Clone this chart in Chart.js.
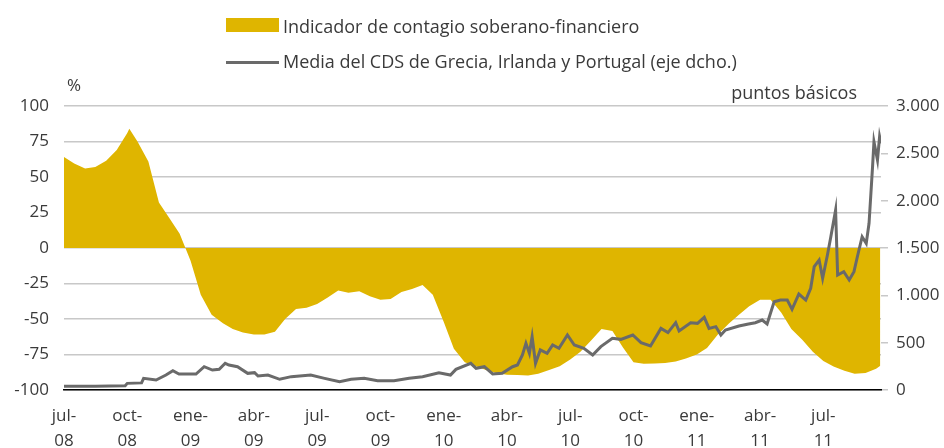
<!DOCTYPE html>
<html lang="es">
<head>
<meta charset="UTF-8">
<title>Indicador de contagio soberano-financiero</title>
<script src="https://cdn.jsdelivr.net/npm/chart.js@4"></script>
<style>
  html, body { margin: 0; padding: 0; background: #fff; }
  #grafico { display: block; }
</style>
</head>
<body>
<canvas id="grafico" width="944" height="448"></canvas>
<script>
// Indicador de contagio soberano-financiero (%, eje izquierdo)
const fechasIndicador = [
  '2008-07-01','2008-07-16','2008-08-01','2008-08-16','2008-09-01','2008-09-16','2008-10-01','2008-10-04','2008-10-16',
  '2008-11-01','2008-11-16','2008-12-01','2008-12-16',
  '2009-01-01','2009-01-16','2009-02-01','2009-02-16','2009-03-01','2009-03-16','2009-04-01','2009-04-16',
  '2009-05-01','2009-05-16','2009-06-01','2009-06-16','2009-07-01','2009-07-16','2009-08-01','2009-08-16',
  '2009-09-01','2009-09-16','2009-10-01','2009-10-16','2009-11-01','2009-11-16','2009-12-01','2009-12-16',
  '2010-01-01','2010-01-16','2010-02-01','2010-02-16','2010-03-01','2010-03-16','2010-04-01','2010-04-16',
  '2010-05-01','2010-05-16','2010-06-01','2010-06-16','2010-07-01','2010-07-16','2010-08-01','2010-08-16',
  '2010-09-01','2010-09-16','2010-10-01','2010-10-16','2010-11-01','2010-11-16','2010-12-01','2010-12-16',
  '2011-01-01','2011-01-16','2011-02-01','2011-02-16','2011-03-01','2011-03-16','2011-04-01','2011-04-16',
  '2011-05-01','2011-05-16','2011-06-01','2011-06-16','2011-07-01','2011-07-16','2011-08-01','2011-08-16',
  '2011-09-01','2011-09-16','2011-09-22'
];
const indicador = [
  64, 59.5, 56, 57, 61.5, 69, 81, 84, 75,
  61, 32, 21, 10,
  -9, -33, -47, -53, -57, -59.5, -61, -61,
  -59, -50, -43, -42, -39.5, -35, -30, -31.5,
  -30.5, -34, -36.5, -36, -31, -28.8, -26, -33,
  -52, -71, -80.5, -83.2, -86, -88, -89.2, -89.5,
  -89.8, -88.5, -86, -83.2, -78.5, -73, -65, -57,
  -58.5, -70, -80.5, -81.5, -81.3, -81, -80, -77.8,
  -75, -70.5, -61, -53, -47, -41, -36.5, -36.5,
  -45.5, -57, -64.6, -73, -79.5, -83.5, -86.5, -88.5,
  -88, -85, -83
];

// Media del CDS de Grecia, Irlanda y Portugal (puntos básicos, eje derecho)
const fechasCds = [
  '2008-07-01','2008-08-16','2008-09-28','2008-10-01','2008-10-22','2008-10-25','2008-11-12','2008-11-26',
  '2008-12-06','2008-12-15','2009-01-09','2009-01-21','2009-02-02','2009-02-11','2009-02-19','2009-02-24',
  '2009-03-08','2009-03-23','2009-04-02','2009-04-07','2009-04-21','2009-05-08','2009-05-25','2009-06-22',
  '2009-07-12','2009-08-03','2009-08-20','2009-09-08','2009-09-27','2009-10-21','2009-11-12','2009-12-01',
  '2009-12-25','2010-01-11','2010-01-19','2010-02-09','2010-02-16','2010-02-27','2010-03-11','2010-03-25',
  '2010-04-09','2010-04-16','2010-04-23','2010-04-28','2010-05-03','2010-05-07','2010-05-12','2010-05-19',
  '2010-05-29','2010-06-06','2010-06-15','2010-06-27','2010-07-07','2010-07-21','2010-08-03','2010-08-15',
  '2010-09-01','2010-09-13','2010-09-30','2010-10-12','2010-10-26','2010-11-10','2010-11-20','2010-12-01',
  '2010-12-06','2010-12-23','2011-01-02','2011-01-12','2011-01-19','2011-01-29','2011-02-05','2011-02-11',
  '2011-03-01','2011-03-15','2011-03-25','2011-04-04','2011-04-11','2011-04-21','2011-04-30','2011-05-10',
  '2011-05-17','2011-05-27','2011-06-06','2011-06-13','2011-06-18','2011-06-25','2011-06-30','2011-07-07',
  '2011-07-12','2011-07-19','2011-07-22','2011-07-31','2011-08-08','2011-08-15','2011-08-20','2011-08-27',
  '2011-09-02','2011-09-06','2011-09-11','2011-09-13','2011-09-18','2011-09-21','2011-09-23'
];
const cds = [
  40, 40, 45, 70, 75, 123, 105, 158,
  204, 169, 169, 246, 211, 218, 282, 264,
  246, 176, 183, 148, 158, 113, 141, 158,
  123, 88, 113, 123, 99, 99, 123, 141,
  183, 158, 218, 282, 229, 246, 169, 176,
  246, 264, 370, 493, 387, 563, 282, 423,
  387, 475, 440, 581, 475, 440, 370, 458,
  546, 535, 581, 500, 465, 651, 606, 711,
  623, 711, 704, 768, 651, 669, 581, 634,
  676, 697, 711, 739, 697, 933, 950, 950,
  852, 1014, 950, 1074, 1303, 1373, 1180, 1426,
  1619, 1901, 1215, 1250, 1162, 1250, 1408, 1619,
  1549, 1761, 2359, 2623, 2430, 2676, 2605
];

// Etiquetas del eje horizontal (trimestres)
const fechasEtiquetas = ['2008-07-01','2008-10-01','2009-01-01','2009-04-01','2009-07-01','2009-10-01',
  '2010-01-01','2010-04-01','2010-07-01','2010-10-01','2011-01-01','2011-04-01','2011-07-01'];
const etiquetasX = [['jul-','08'],['oct-','08'],['ene-','09'],['abr-','09'],['jul-','09'],['oct-','09'],
  ['ene-','10'],['abr-','10'],['jul-','10'],['oct-','10'],['ene-','11'],['abr-','11'],['jul-','11']];

const series = ['Indicador de contagio soberano-financiero', 'Media del CDS de Grecia, Irlanda y Portugal (eje dcho.)'];

const AMARILLO = '#DFB500';
const GRIS = '#6a6a6a';
const TEXTO = '#3a3a3a';
const FUENTE = '"Open Sans", sans-serif';

// meses transcurridos desde julio de 2008
function aMes(f) {
  const [a, m, d] = f.split('-').map(Number);
  const dias = new Date(a, m, 0).getDate();
  return (a - 2008) * 12 + (m - 7) + (d - 1) / dias;
}

function miles(v) {
  return String(v).replace(/\B(?=(\d{3})+(?!\d))/g, '.');
}

const puntos = (fechas, valores) => fechas.map((f, i) => ({ x: aMes(f), y: valores[i] }));
const posEtiquetas = fechasEtiquetas.map(aMes);

const leyendaYTitulos = {
  id: 'leyendaYTitulos',
  afterDraw(chart) {
    const ctx = chart.ctx;
    ctx.save();
    ctx.fillStyle = AMARILLO;
    ctx.fillRect(226, 18, 53, 14);
    ctx.strokeStyle = GRIS;
    ctx.lineWidth = 3;
    ctx.beginPath();
    ctx.moveTo(226, 62.5);
    ctx.lineTo(279, 62.5);
    ctx.stroke();

    ctx.fillStyle = TEXTO;
    ctx.font = '18px ' + FUENTE;
    ctx.textBaseline = 'alphabetic';
    ctx.textAlign = 'left';
    ctx.fillText(series[0], 283, 33);
    ctx.fillText(series[1], 283, 68);
    ctx.font = '17px ' + FUENTE;
    ctx.fillText('%', 67, 91);
    ctx.font = '18px ' + FUENTE;
    ctx.textAlign = 'right';
    ctx.fillText('puntos básicos', 857, 99);
    ctx.restore();
  }
};

new Chart(document.getElementById('grafico'), {
  type: 'line',
  data: {
    datasets: [
      {
        label: series[1],
        data: puntos(fechasCds, cds),
        yAxisID: 'y2',
        borderColor: GRIS,
        borderWidth: 3,
        pointRadius: 0,
        tension: 0,
        fill: false
      },
      {
        label: series[0],
        data: puntos(fechasIndicador, indicador),
        yAxisID: 'y',
        borderWidth: 0,
        borderColor: AMARILLO,
        backgroundColor: AMARILLO,
        pointRadius: 0,
        tension: 0,
        fill: 'origin'
      }
    ]
  },
  options: {
    responsive: false,
    animation: false,
    layout: { padding: { top: 106, left: 0, right: 0, bottom: 0 } },
    plugins: {
      legend: { display: false },
      tooltip: { enabled: false }
    },
    scales: {
      x: {
        type: 'linear',
        min: 0,
        max: aMes(fechasCds[fechasCds.length - 1]),
        grid: { display: false, drawTicks: false },
        border: { display: true, color: '#000', width: 1.5 },
        afterBuildTicks: (scale) => { scale.ticks = posEtiquetas.map(v => ({ value: v })); },
        afterFit: (scale) => { scale.height = 58; },
        ticks: {
          autoSkip: false,
          maxRotation: 0,
          padding: 14,
          color: TEXTO,
          font: { family: FUENTE, size: 17, lineHeight: '25px' },
          callback: (v, i) => etiquetasX[i]
        }
      },
      y: {
        position: 'left',
        min: -100,
        max: 100,
        grid: { color: '#c8c8c8', lineWidth: 1.5, drawTicks: false },
        border: { display: false },
        afterFit: (scale) => { scale.width = 64; },
        ticks: {
          stepSize: 25,
          padding: 15,
          color: TEXTO,
          font: { family: FUENTE, size: 17 }
        }
      },
      y2: {
        position: 'right',
        min: 0,
        max: 3000,
        grid: { drawOnChartArea: false, drawTicks: true, tickLength: 7, color: '#c8c8c8', lineWidth: 1.5 },
        border: { display: false },
        afterFit: (scale) => { scale.width = 63; },
        ticks: {
          stepSize: 500,
          padding: 8,
          color: TEXTO,
          font: { family: FUENTE, size: 17 },
          callback: (v) => miles(v)
        }
      }
    }
  },
  plugins: [leyendaYTitulos]
});
</script>
</body>
</html>
